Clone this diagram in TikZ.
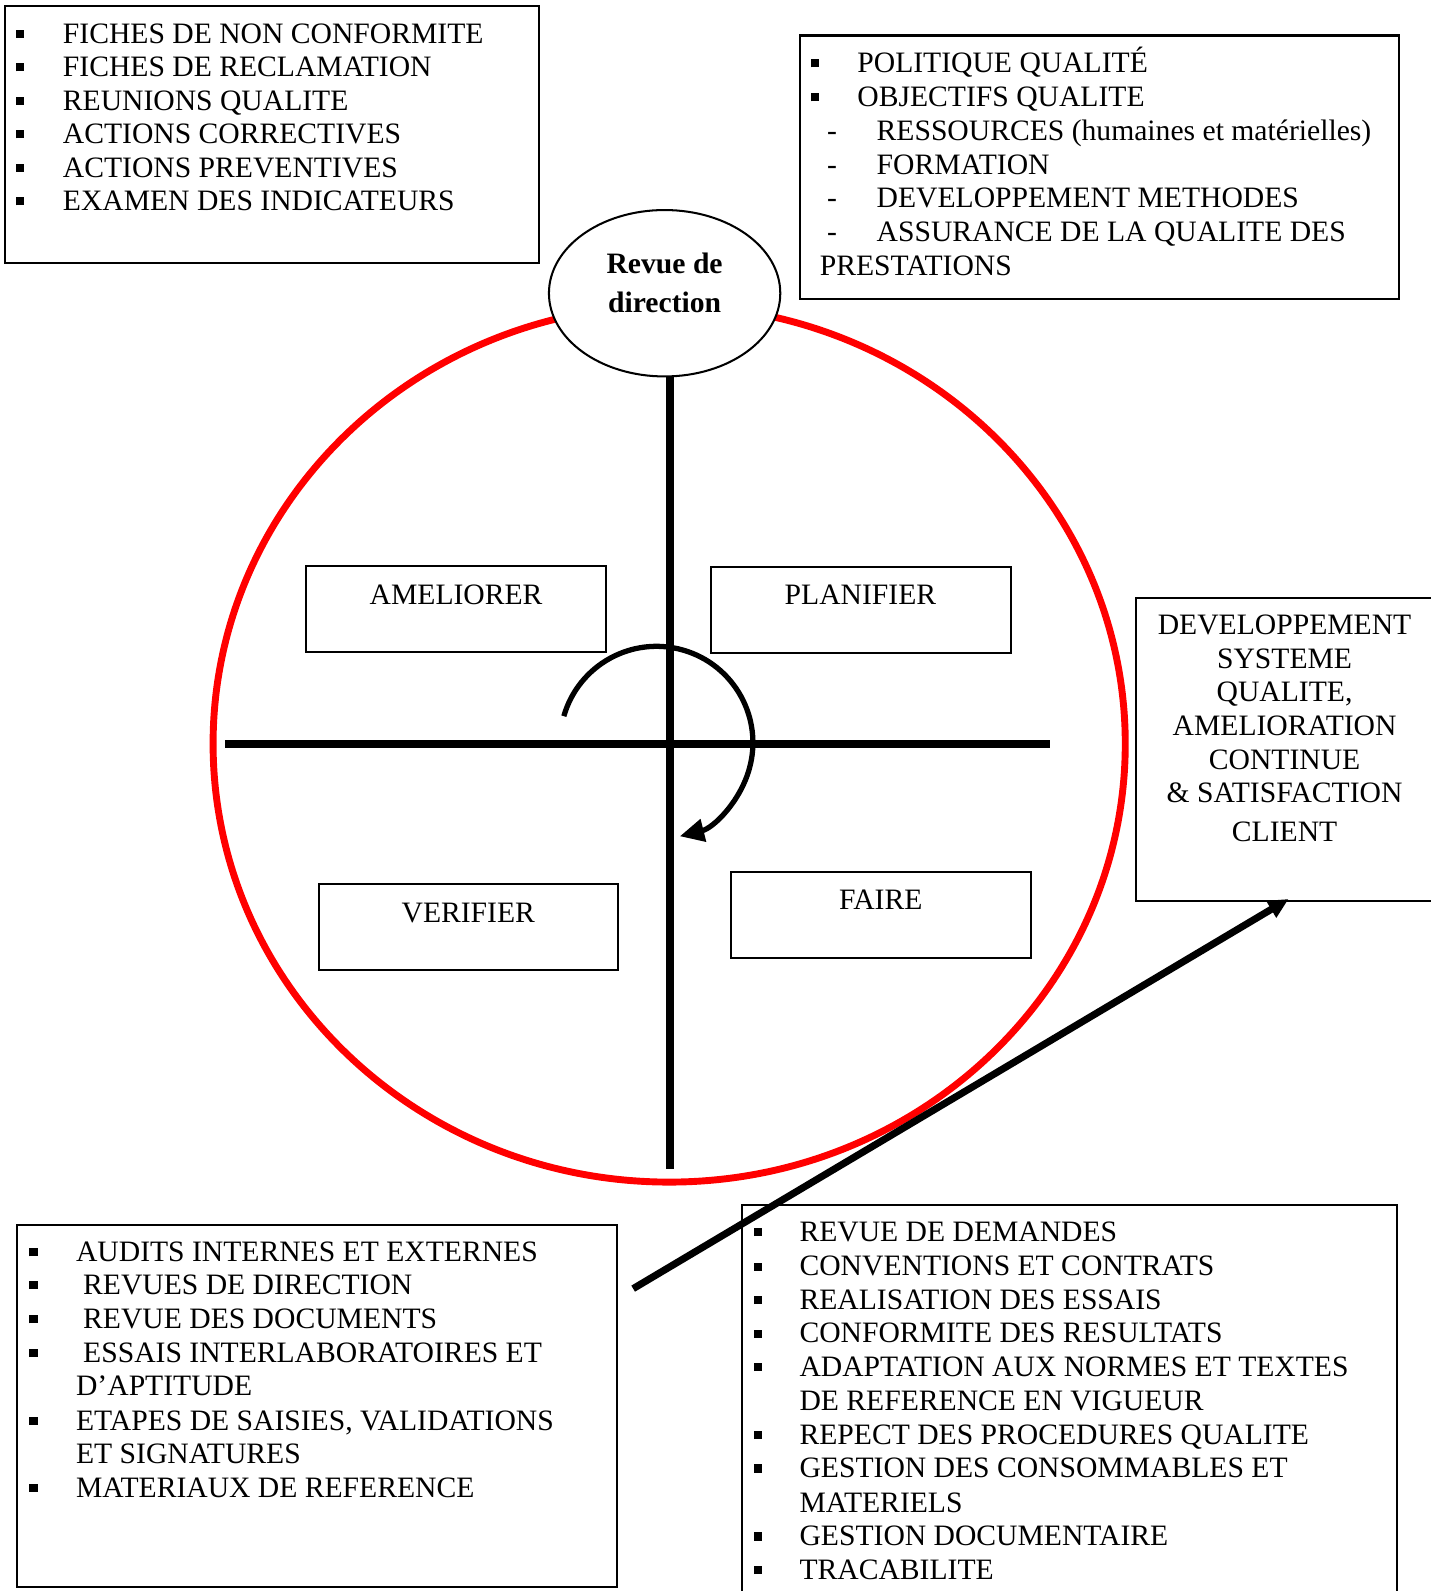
\documentclass[tikz,border=0pt]{standalone}
\usepackage{fontspec}
\setmainfont{Liberation Serif}
\usetikzlibrary{arrows.meta,shapes.geometric}
\newcommand\sqb{\rule[2.6pt]{4pt}{4pt}}
\begin{document}
\begin{tikzpicture}[x=0.5pt,y=-0.5pt,
  txt/.style={inner sep=0pt, outer sep=0pt, anchor=base west, font=\fontsize{14.6}{16.5}\selectfont},
  ctxt/.style={txt, anchor=base},
  bx/.style={draw, line width=1pt},
  thick line/.style={line width=4pt},
]
\useasboundingbox (0,0) rectangle (1410,1568);
\fill[white] (0,0) rectangle (1410,1568);

% red circle
\draw[red, line width=3.4pt] (659.5,733) ellipse [x radius=449.5, y radius=432];

% cross
\coordinate (vtop) at (660,372);
\coordinate (vbot) at (660,1152);
\coordinate (hl) at (222,733);
\coordinate (hr) at (1035,733);
\draw[thick line] (vtop) -- (vbot);
\draw[thick line] (hl) -- (hr);

% Revue de direction
\node[draw, ellipse, fill=white, line width=1pt, minimum width=114pt, minimum height=82pt, inner sep=0pt] (revue) at (655,289) {};
\node[ctxt, font=\fontsize{14.6}{16.5}\selectfont\bfseries] (revue1) at (655,269.5) {Revue de};
\node[ctxt, font=\fontsize{14.6}{16.5}\selectfont\bfseries] (revue2) at (655,307.5) {direction};

% PDCA boxes
\draw[bx] (302,558) rectangle (597,643);
\node[ctxt] (amel) at (449.5,595.5) {AMELIORER};
\draw[bx] (701,559) rectangle (996,644);
\node[ctxt] (plan) at (848,596) {PLANIFIER};
\draw[bx] (314,871) rectangle (609,956);
\node[ctxt] (veri) at (461.5,909.5) {VERIFIER};
\draw[bx] (720,859) rectangle (1016,944);
\node[ctxt] (faire) at (868,896) {FAIRE};

% curved arrow
\coordinate (cstart) at ({647+95*cos(-164)},{732+95*sin(-164)});
\draw[line width=2.6pt, -{Triangle[length=12pt,width=11pt]}] (cstart) arc[start angle=-164, end angle=76, radius=95];

% top-left box
\draw[bx] (5,6) rectangle (531,259);
\foreach \y/\t [count=\i] in {42.5/FICHES DE NON CONFORMITE, 75.5/FICHES DE RECLAMATION, 108.5/REUNIONS QUALITE, 141.5/ACTIONS CORRECTIVES, 174.5/ACTIONS PREVENTIVES, 207.5/EXAMEN DES INDICATEURS}{
  \node[txt] (tlb\i) at (16,\y) {\sqb};
  \node[txt] (tlt\i) at (62,\y) {\t};
}

% top-right box
\draw[bx] (788,35) rectangle (1379,295);
\node[txt] (trb1) at (799,71.5) {\sqb};
\node[txt] (trt1) at (845,71.5) {POLITIQUE QUALITÉ};
\node[txt] (trb2) at (799,105) {\sqb};
\node[txt] (trt2) at (845,105) {OBJECTIFS QUALITE};
\foreach \y/\t [count=\i] in {138.3/RESSOURCES (humaines et matérielles), 171.6/FORMATION, 204.9/DEVELOPPEMENT METHODES, 238.2/ASSURANCE DE LA QUALITE DES}{
  \node[ctxt] (trd\i) at (820,\y) {-};
  \node[txt] (trs\i) at (864,\y) {\t};
}
\node[txt] (trp) at (808,271.5) {PRESTATIONS};

% right box
\draw[bx] (1120,589) rectangle (1445,888);
\foreach \y/\t [count=\i] in {625.5/DEVELOPPEMENT, 658.5/SYSTEME, 691.5/{QUALITE,}, 725/AMELIORATION, 758.3/CONTINUE, 790.5/\& SATISFACTION, 829.5/CLIENT}{
  \node[ctxt] (rt\i) at (1266,\y) {\t};
}

% bottom-left box
\draw[bx] (17,1207) rectangle (608,1564);
\foreach \y/\b/\xx/\t [count=\i] in {1243.5/1/75/AUDITS INTERNES ET EXTERNES, 1275.5/1/82/REVUES DE DIRECTION, 1309.5/1/82/REVUE DES DOCUMENTS, 1342.5/1/82/ESSAIS INTERLABORATOIRES ET, 1375.5/0/75/D’APTITUDE, 1409.5/1/75/{ETAPES DE SAISIES, VALIDATIONS}, 1442.5/0/75/ET SIGNATURES, 1475.5/1/75/MATERIAUX DE REFERENCE}{
  \ifnum\b=1 \node[txt] (blb\i) at (29,\y) {\sqb};\fi
  \node[txt] (blt\i) at (\xx,\y) {\t};
}

% bottom-right box
\draw[bx] (731,1188) rectangle (1377,1600);
\foreach \y/\b/\t [count=\i] in {1223.5/1/REVUE DE DEMANDES, 1257.5/1/CONVENTIONS ET CONTRATS, 1290.5/1/REALISATION DES ESSAIS, 1323.5/1/CONFORMITE DES RESULTATS, 1356.5/1/ADAPTATION AUX NORMES ET TEXTES, 1390.5/0/DE REFERENCE EN VIGUEUR, 1423.5/1/REPECT DES PROCEDURES QUALITE, 1456.5/1/GESTION DES CONSOMMABLES ET, 1490.5/0/MATERIELS, 1523.5/1/GESTION DOCUMENTAIRE, 1556.5/1/TRACABILITE}{
  \ifnum\b=1 \node[txt] (brb\i) at (743,\y) {\sqb};\fi
  \node[txt] (brt\i) at (788,\y) {\t};
}

% diagonal arrow
\coordinate (dstart) at (624,1270);
\coordinate (rtip) at (1270,886);
\draw[line width=3.5pt, -{Triangle[length=10pt,width=9pt]}] (dstart) -- (rtip);
\end{tikzpicture}
\end{document}
